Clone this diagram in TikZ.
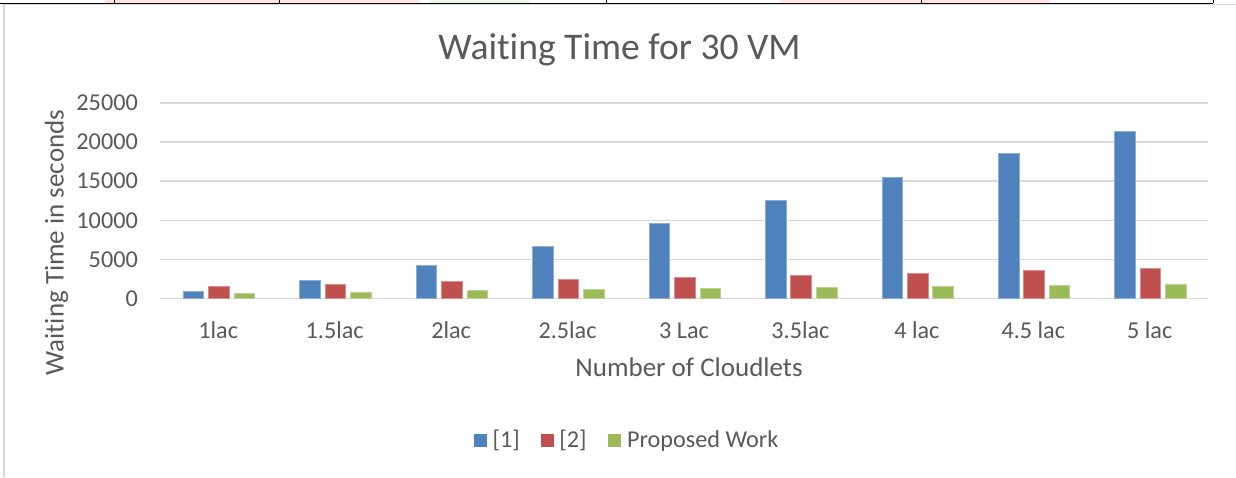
\documentclass[tikz,border=0pt]{standalone}
\usepackage{fontspec}
\setmainfont{Carlito}[Ligatures=NoCommon]
\usetikzlibrary{positioning}
\definecolor{Ink}{HTML}{595959}
\definecolor{Grid}{HTML}{D9D9D9}
\definecolor{SerA}{HTML}{4F81BD}
\definecolor{SerB}{HTML}{C0504D}
\definecolor{SerC}{HTML}{9BBB59}
\definecolor{Blush}{HTML}{FDE4E0}
\definecolor{Mint}{HTML}{EEF7E8}
\tikzset{
  lbl/.style={text=Ink,font=\fontsize{24.2}{29}\selectfont,inner sep=0pt},
  axt/.style={text=Ink,font=\fontsize{27}{32}\selectfont,inner sep=0pt},
  ttl/.style={text=Ink,font=\fontsize{37.6}{44}\selectfont,inner sep=0pt},
  gridline/.style={draw=Grid,line width=1.4pt},
  barA/.style={fill=SerA,draw=SerA!65!white,line width=.7pt},
  barB/.style={fill=SerB,draw=SerB!65!white,line width=.7pt},
  barC/.style={fill=SerC,draw=SerC!65!white,line width=.7pt},
  key/.style={minimum width=13pt,minimum height=13pt,inner sep=0pt}
}

\begin{document}
\begin{tikzpicture}[x=1pt,y=1pt]
  \useasboundingbox (0,0) rectangle (1236,477);
  \fill[white] (0,0) rectangle (1236,477);
  \fill[Blush] (105,474) rectangle (420,477);
  \fill[Mint] (430,474) rectangle (530,477);
  \fill[Blush] (780,474) rectangle (1050,477);
  \draw[draw=Grid,line width=1.3pt] (4,0) -- (4,472.5) -- (1236,472.5);
  \draw[black,line width=1pt] (0,473.7) -- (1213,473.7);
  \foreach \tx in {114,279,606,921,1213}
    \draw[black,line width=1pt] (\tx,473.7) -- (\tx,477);
  \foreach \k/\tv in {0/0,1/5000,2/10000,3/15000,4/20000,5/25000}{
    \draw[gridline] (160,178.5+\k*39.1) -- (1208,178.5+\k*39.1);
    \node[lbl,anchor=east] (t\k) at (138,178.5+\k*39.1) {\tv};
  }
  % values in thousands of seconds
  \foreach \va/\vb/\vc/\cat [count=\i] in {0.95/1.55/0.65/1lac,2.35/1.85/0.85/1.5lac,4.25/2.15/1.0/2lac,6.64/2.41/1.13/2.5lac,9.59/2.76/1.26/3 Lac,12.54/3.01/1.44/3.5lac,15.49/3.26/1.52/4 lac,18.5/3.55/1.66/4.5 lac,21.35/3.84/1.83/5 lac}{
    \pgfmathsetmacro\cx{160+(\i-0.5)*116.44}
    \draw[barA] (\cx-35,178.5) rectangle ++(20.6,\va*7.82);
    \draw[barB] (\cx-9.6,178.5) rectangle ++(20.6,\vb*7.82);
    \draw[barC] (\cx+15.9,178.5) rectangle ++(20.6,\vc*7.82);
    \node[lbl,anchor=base] (c\i) at (\cx,138.5) {\cat};
  }
  \node[ttl,anchor=base] (title) at (619.5,417) {Waiting Time for 30 VM};
  \node[axt,anchor=base] (xlab) at (689,101) {Number of Cloudlets};
  \node[axt,anchor=base,rotate=90] (ylab) at (63.5,234.5) {Waiting Time in seconds};
  \node[key,fill=SerA] (kA) at (480.3,36.3) {};
  \node[lbl,right=5.5pt of kA] (nA) {[1]};
  \node[key,fill=SerB] (kB) at (547,36.3) {};
  \node[lbl,right=5.5pt of kB] (nB) {[2]};
  \node[key,fill=SerC] (kC) at (614.7,36.3) {};
  \node[lbl,right=5.5pt of kC] (nC) {Proposed Work};
\end{tikzpicture}
\end{document}
